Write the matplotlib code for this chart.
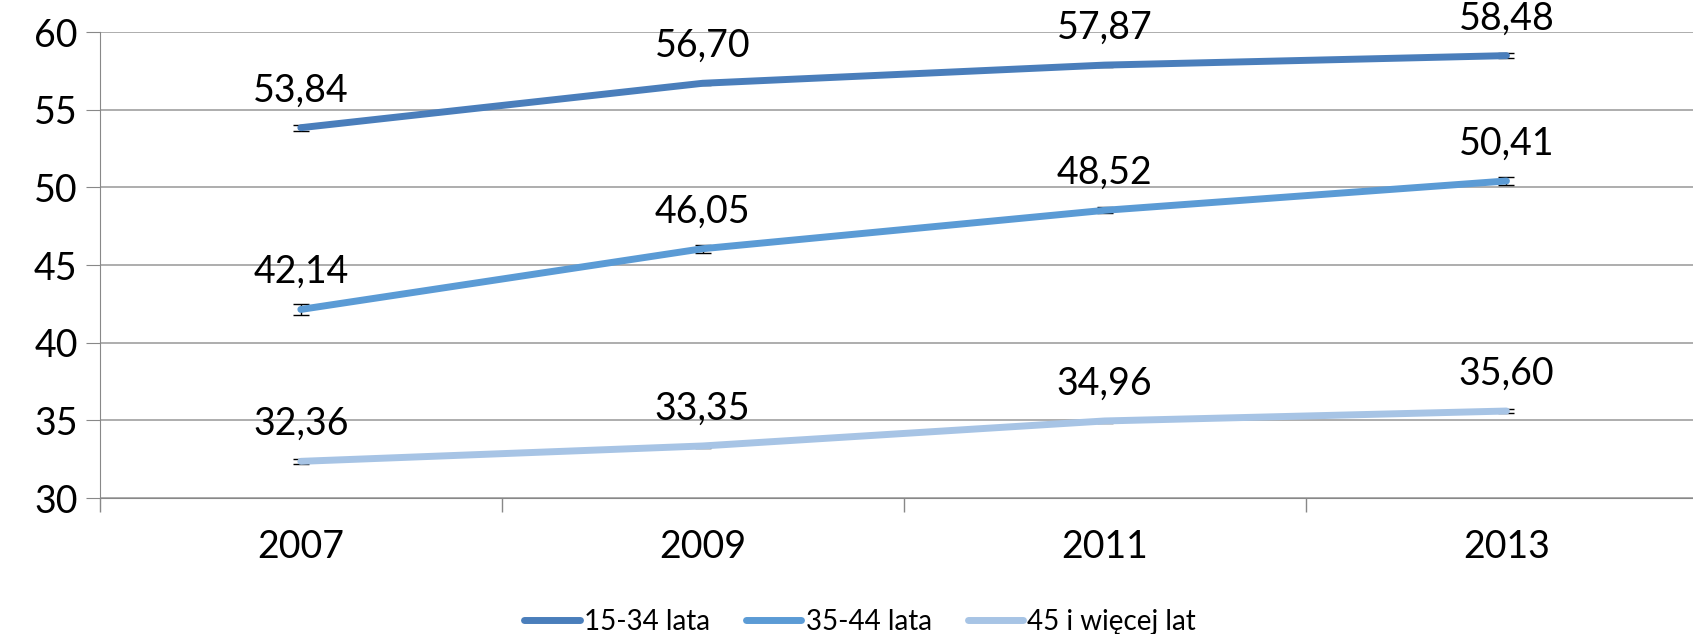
import numpy as np
import matplotlib.pyplot as plt

years = ['2007', '2009', '2011', '2013']
grp_15_34 = [53.84, 56.70, 57.87, 58.48]
grp_35_44 = [42.14, 46.05, 48.52, 50.41]
grp_45 = [32.36, 33.35, 34.96, 35.60]
err_15_34 = [0.2, 0.1, 0.1, 0.15]
err_35_44 = [0.35, 0.25, 0.2, 0.25]
err_45 = [0.15, 0.1, 0.1, 0.1]
series_names = ['15-34 lata', '35-44 lata', '45 i więcej lat']

colors = ['#4A7EBB', '#5B9BD5', '#A7C4E5']

plt.rcParams['font.family'] = ['Lato', 'DejaVu Sans']

fig = plt.figure(figsize=(16.93, 6.34), dpi=100)
ax = fig.add_axes([0.059, 0.2145, 0.9495, 0.735])

x = np.arange(len(years))
all_vals = [grp_15_34, grp_35_44, grp_45]
all_errs = [err_15_34, err_35_44, err_45]

for vals, errs, col, name in zip(all_vals, all_errs, colors, series_names):
    ax.errorbar(x, vals, yerr=errs, fmt='none', ecolor='black',
                elinewidth=1, capsize=6, capthick=1, zorder=2)
    ax.plot(x, vals, color=col, lw=5, solid_capstyle='round', label=name, zorder=3)
    for xi, v in zip(x, vals):
        ax.annotate(f'{v:.2f}'.replace('.', ','), (xi, v), xytext=(0, 19),
                    textcoords='offset points', ha='center', va='baseline',
                    fontsize=27)

ax.set_xlim(-0.5, 3.5)
ax.set_ylim(30, 60)
ax.set_yticks(range(30, 61, 5))
ax.set_xticks(x)
ax.set_xticklabels(years)
ax.set_xticks(np.arange(-0.5, 4, 1), minor=True)
ax.tick_params(axis='x', which='major', length=0, labelsize=27, pad=22)
ax.tick_params(axis='x', which='minor', length=10, color='#888888', width=1)
ax.tick_params(axis='y', length=10, color='#888888', labelsize=27, pad=6)
ax.grid(axis='y', color='#A0A0A0', lw=1.2)
ax.set_axisbelow(True)
for s in ['top', 'right']:
    ax.spines[s].set_visible(False)
ax.spines['left'].set_color('#888888')
ax.spines['bottom'].set_color('#888888')

fig.legend(loc='center', bbox_to_anchor=(0.508, 0.019), ncol=3, frameon=False,
           fontsize=20, handlelength=2.0, handletextpad=0.15, columnspacing=1.3,
           borderpad=0.1)

fig.savefig('out.png', dpi=100)
